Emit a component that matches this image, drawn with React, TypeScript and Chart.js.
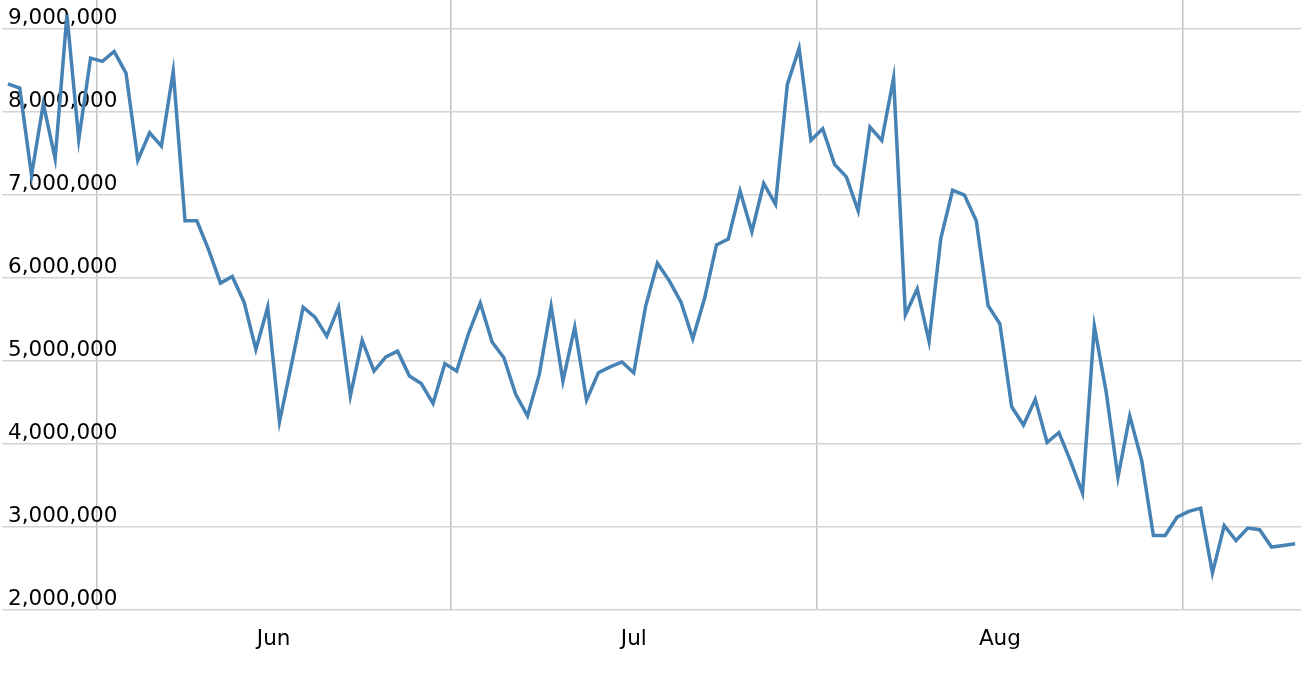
import { useEffect, useRef } from 'react';
import { Chart, registerables } from 'chart.js';

Chart.register(...registerables);

// Daily values, first point on May 24 (days counted from May 24 00:00, points at noon)
const values: number[] = [
  8340000, 8290000, 7240000, 8100000, 7440000, 9170000, 7670000, 8650000, 8610000, 8730000,
  8470000, 7420000, 7750000, 7590000, 8490000, 6690000, 6690000, 6340000, 5940000, 6020000,
  5710000, 5140000, 5650000, 4270000, 4950000, 5650000, 5530000, 5300000, 5650000, 4580000,
  5250000, 4880000, 5050000, 5120000, 4820000, 4730000, 4490000, 4970000, 4880000, 5330000,
  5700000, 5230000, 5040000, 4600000, 4340000, 4840000, 5660000, 4760000, 5410000, 4530000,
  4860000, 4930000, 4990000, 4860000, 5660000, 6180000, 5970000, 5710000, 5270000, 5760000,
  6400000, 6470000, 7050000, 6560000, 7140000, 6890000, 8330000, 8770000, 7660000, 7800000,
  7370000, 7220000, 6810000, 7820000, 7660000, 8410000, 5560000, 5870000, 5240000, 6480000,
  7060000, 7000000, 6690000, 5670000, 5450000, 4450000, 4230000, 4540000, 4020000, 4140000,
  3790000, 3410000, 5420000, 4630000, 3600000, 4340000, 3810000, 2900000, 2900000, 3120000,
  3190000, 3230000, 2450000, 3020000, 2840000, 2990000, 2970000, 2760000, 2780000, 2800000,
];

// Month boundaries (days since May 24): Jun 1, Jul 1, Aug 1, Sep 1
const monthStartDays: number[] = [8, 38, 69, 100];
const monthLabels: string[] = ['Jun', 'Jul', 'Aug'];
const yTickValues: number[] = [2000000, 3000000, 4000000, 5000000, 6000000, 7000000, 8000000, 9000000];

const X_MIN = 0;
const X_MAX = 110;
const Y_MIN = 2000000;
const Y_MAX = 9350000;

const FONT = { family: '"DejaVu Sans", Verdana, sans-serif', size: 21.5 };

export default function App() {
  const ref = useRef<HTMLCanvasElement | null>(null);

  useEffect(() => {
    document.body.style.margin = '0';
    const points = values.map((v, i) => ({ x: i + 0.5, y: v }));
    const labelDays = monthLabels.map((_, k) => (monthStartDays[k] + monthStartDays[k + 1]) / 2);

    const chart = new Chart(ref.current as HTMLCanvasElement, {
      type: 'line',
      data: {
        datasets: [
          {
            data: points,
            borderColor: '#4682b4',
            borderWidth: 3.5,
            pointRadius: 0,
            pointHoverRadius: 0,
            tension: 0,
            fill: false,
          },
        ],
      },
      options: {
        animation: false,
        responsive: true,
        maintainAspectRatio: false,
        layout: { padding: { left: 2, right: 15, top: 0, bottom: 8 } },
        plugins: { legend: { display: false }, tooltip: { enabled: false } },
        scales: {
          x: {
            type: 'linear',
            min: X_MIN,
            max: X_MAX,
            afterBuildTicks: (s: any) => {
              s.ticks = [...monthStartDays, ...labelDays]
                .sort((a, b) => a - b)
                .map((v) => ({ value: v }));
            },
            afterFit: (s: any) => {
              s.paddingLeft = 0;
              s.paddingRight = 0;
            },
            ticks: {
              autoSkip: false,
              maxRotation: 0,
              minRotation: 0,
              padding: 16,
              color: '#000',
              font: FONT,
              callback: (v: any) => {
                const k = labelDays.indexOf(Number(v));
                return k >= 0 ? monthLabels[k] : '';
              },
            },
            grid: {
              drawTicks: false,
              lineWidth: 1.5,
              color: (ctx: any) =>
                ctx.tick && monthStartDays.includes(ctx.tick.value) ? 'rgba(0,0,0,0.24)' : 'rgba(0,0,0,0)',
            },
            border: { display: false },
          },
          y: {
            type: 'linear',
            min: Y_MIN,
            max: Y_MAX,
            afterBuildTicks: (s: any) => {
              s.ticks = yTickValues.map((v) => ({ value: v }));
            },
            afterFit: (s: any) => {
              s.width = 0;
              s.paddingTop = 0;
              s.paddingBottom = 0;
            },
            ticks: {
              mirror: true,
              padding: 6,
              labelOffset: -11,
              autoSkip: false,
              color: '#000',
              font: FONT,
              callback: (v: any) => Number(v).toLocaleString('en-US'),
            },
            grid: {
              drawTicks: false,
              lineWidth: 1.5,
              color: '#d4d4d4',
            },
            border: { display: false },
          },
        },
      },
    });
    return () => chart.destroy();
  }, []);

  return (
    <div style={{ position: 'relative', width: 1316, height: 676 }}>
      <canvas ref={ref} />
    </div>
  );
}
